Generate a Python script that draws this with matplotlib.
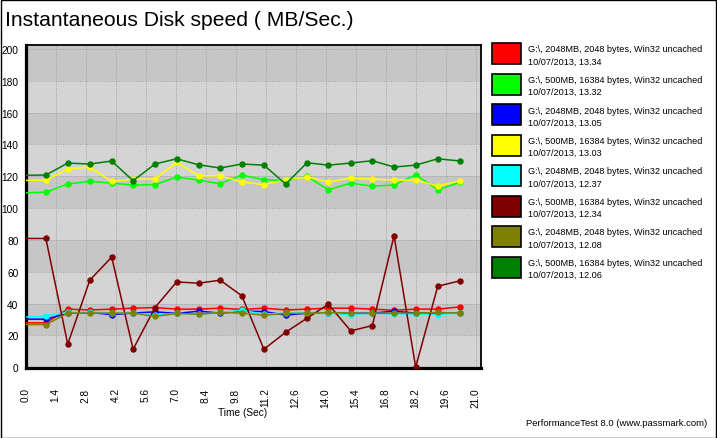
import matplotlib
matplotlib.use('Agg')
import matplotlib.pyplot as plt
from matplotlib.patches import Rectangle

# sample times (sec)
times = [0, 0.95, 1.97, 3.0, 4.02, 5.02, 6.04, 7.05, 8.08, 9.08, 10.09,
         11.12, 12.14, 13.13, 14.13, 15.17, 16.18, 17.19, 18.2, 19.23, 20.27]

red = [27.9, 27.9, 36.5, 36.0, 36.5, 37.1, 37.5, 36.5, 36.5, 37.1, 36.3,
       37.1, 36.0, 36.5, 37.1, 37.1, 36.5, 35.8, 36.5, 36.5, 37.9]
green = [109.6, 110.0, 115.1, 116.8, 115.7, 114.5, 114.7, 119.5, 117.6, 115.3, 120.8,
         117.8, 117.2, 119.9, 111.5, 115.7, 113.8, 114.5, 121.0, 111.5, 116.2]
blue = [30.2, 30.2, 33.8, 34.4, 33.1, 34.0, 34.8, 33.8, 35.2, 34.0, 35.2,
        35.0, 32.7, 34.0, 34.0, 33.8, 34.0, 35.2, 34.0, 34.0, 34.0]
yellow = [117.4, 117.6, 124.5, 125.8, 116.8, 118.2, 118.2, 128.7, 120.3, 120.3, 116.5,
          114.7, 117.9, 119.5, 116.4, 118.9, 118.2, 117.6, 117.6, 113.8, 117.2]
cyan = [31.6, 32.1, 34.4, 34.8, 34.0, 34.0, 32.7, 33.8, 33.3, 34.4, 35.8,
        33.3, 34.0, 34.0, 34.0, 33.1, 34.0, 33.5, 33.5, 33.1, 34.0]
darkred = [80.9, 80.9, 14.5, 54.7, 69.2, 11.3, 37.5, 53.6, 52.8, 54.7, 44.9,
           11.3, 22.0, 30.8, 39.6, 22.8, 26.2, 82.6, 0.0, 50.9, 54.3]
olive = [26.8, 26.8, 34.0, 34.0, 34.0, 34.0, 31.9, 33.8, 33.3, 34.4, 34.0,
         32.7, 33.8, 33.8, 34.4, 34.0, 33.8, 34.0, 34.0, 34.4, 34.0]
darkgreen = [120.6, 120.8, 128.3, 127.7, 129.6, 117.2, 127.7, 131.0, 127.2, 125.2, 127.7,
             127.0, 115.1, 128.5, 127.0, 128.3, 129.8, 125.8, 127.0, 131.0, 129.6]

series = [red, green, blue, yellow, cyan, darkred, olive, darkgreen]
colors = ['#ff0000', '#00ff00', '#0000ff', '#ffff00', '#00ffff', '#800000', '#808000', '#008000']
names = ['G:\\, 2048MB, 2048 bytes, Win32 uncached',
         'G:\\, 500MB, 16384 bytes, Win32 uncached'] * 4
stamps = ['10/07/2013, 13.34', '10/07/2013, 13.32', '10/07/2013, 13.05', '10/07/2013, 13.03',
          '10/07/2013, 12.37', '10/07/2013, 12.34', '10/07/2013, 12.08', '10/07/2013, 12.06']

xticks = [0.0, 1.4, 2.8, 4.2, 5.6, 7.0, 8.4, 9.8, 11.2, 12.6, 14.0, 15.4, 16.8, 18.2, 19.6, 21.0]
yticks = [0, 20, 40, 60, 80, 100, 120, 140, 160, 180, 200]

plt.rcParams['font.family'] = ['Liberation Sans', 'DejaVu Sans']

W, H = 717, 439
fig = plt.figure(figsize=(W / 100, H / 100), dpi=100)
fig.patch.set_facecolor('white')

ax = fig.add_axes([25.5 / W, (H - 369) / H, (481.5 - 25.5) / W, (369 - 45.7) / H])
ax.set_xlim(0, 21.27)
ax.set_ylim(-0.5, 202.7)
ax.set_facecolor('#d4d4d4')

# alternating bands
for k in range(0, 11):
    lo = k * 20
    if k % 2 == 1:
        ax.axhspan(lo, lo + 20, color='#c6c6c6', lw=0, zorder=0)
ax.axhspan(200, 210, color='#c6c6c6', lw=0, zorder=0)

ax.set_xticks(xticks)
ax.set_xticklabels(['%.1f' % t for t in xticks], rotation=90, fontsize=7.3)
ax.set_yticks(yticks)
ax.set_yticklabels([str(v) for v in yticks], fontsize=7.3)
ax.tick_params(length=0)
ax.tick_params(axis='x', pad=14)
ax.tick_params(axis='y', pad=5)
ax.grid(True, color='#a0a0a0', linestyle=(0, (1, 1.5)), linewidth=0.7)
ax.set_axisbelow(True)

for s, c in zip(series, colors):
    ax.plot(times, s, color=c, lw=1.1, marker='o', ms=3.6, markevery=slice(1, None), zorder=3)

for side in ['left', 'bottom']:
    ax.spines[side].set_linewidth(2.3)
for side in ['top', 'right']:
    ax.spines[side].set_linewidth(1.3)

fig.text(5 / W, 1 - 20 / H, 'Instantaneous Disk speed ( MB/Sec.)', fontsize=15.2,
         va='center', ha='left')
fig.text(243 / W, 1 - 413 / H, 'Time (Sec)', fontsize=7.3, ha='center', va='center')
fig.text(707 / W, 1 - 424 / H, 'PerformanceTest 8.0 (www.passmark.com)', fontsize=6.8,
         ha='right', va='center')

# legend
for i, (c, n, st) in enumerate(zip(colors, names, stamps)):
    top = 44 + 30.5 * i
    fig.patches.append(Rectangle((492 / W, 1 - (top + 21) / H), 29 / W, 21 / H,
                                 transform=fig.transFigure, facecolor=c,
                                 edgecolor='black', lw=1.2))
    fig.text(528 / W, 1 - (top + 6) / H, n, fontsize=6.6, va='center', ha='left')
    fig.text(528 / W, 1 - (top + 18) / H, st, fontsize=6.6, va='center', ha='left')

# outer border
fig.patches.append(Rectangle((0.5 / W, 0.5 / H), (W - 1.5) / W, (H - 1.5) / H,
                             transform=fig.transFigure, fill=False, edgecolor='black', lw=1))

fig.savefig('out.png', dpi=100)
